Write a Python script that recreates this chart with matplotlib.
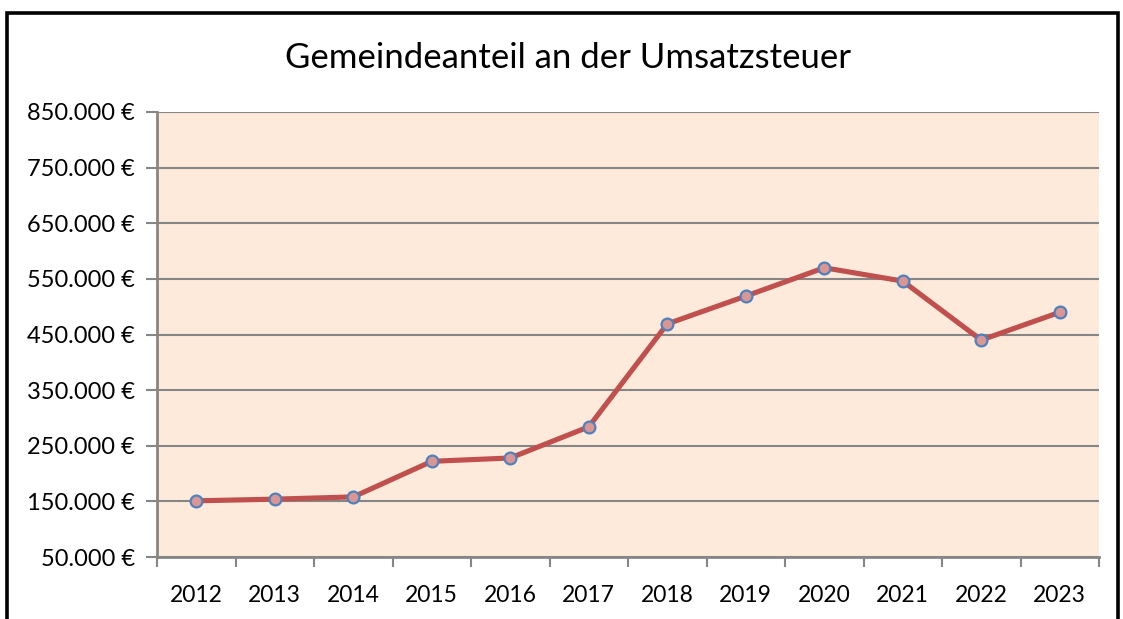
import matplotlib.pyplot as plt
from matplotlib.patches import Rectangle
from matplotlib.ticker import FuncFormatter, FixedLocator
import numpy as np

years = ['2012', '2013', '2014', '2015', '2016', '2017',
         '2018', '2019', '2020', '2021', '2022', '2023']
values = [151000, 154000, 158000, 222000, 228000, 284000,
          469000, 519000, 570000, 546000, 440000, 490000]
y_ticks = [50000, 150000, 250000, 350000, 450000, 550000, 650000, 750000, 850000]

plt.rcParams['font.family'] = ['Lato', 'DejaVu Sans']

grid_col = '#868686'
fig = plt.figure(figsize=(11.23, 6.19), dpi=100)
ax = fig.add_axes([157 / 1123, 1 - 557 / 619, (1099 - 157) / 1123, (557 - 112) / 619])
ax.set_facecolor('#FDEADA')

x = np.arange(len(years))
ax.plot(x, values, color='#C0504D', lw=3.7, marker='o', ms=8.5,
        mfc='#D99694', mec='#4F81BD', mew=1.6, zorder=3, solid_capstyle='round')

ax.set_xlim(-0.5, len(years) - 0.5)
ax.set_ylim(50000, 850000)
ax.set_yticks(y_ticks)
ax.yaxis.set_major_formatter(FuncFormatter(lambda v, p: f'{int(v):,} €'.replace(',', '.')))
ax.grid(axis='y', color=grid_col, lw=1.5)
ax.set_axisbelow(True)

ax.set_xticks(x)
ax.set_xticklabels(years)
ax.xaxis.set_minor_locator(FixedLocator(np.arange(-0.5, len(years), 1.0)))
ax.tick_params(axis='x', which='major', length=0, pad=20, labelsize=16.5)
ax.tick_params(axis='x', which='minor', length=7, width=1.5, color=grid_col, direction='out')
ax.tick_params(axis='y', length=8, width=1.5, color=grid_col, labelsize=17, pad=8)

for s in ['top', 'right']:
    ax.spines[s].set_visible(False)
for s in ['left', 'bottom']:
    ax.spines[s].set_color(grid_col)
    ax.spines[s].set_linewidth(2)

fig.text(568 / 1123, 1 - 58 / 619, 'Gemeindeanteil an der Umsatzsteuer',
         ha='center', va='center', fontsize=25)

fig.patches.append(Rectangle((7 / 1123, -0.05), (1118 - 7) / 1123, 1.05 - 13 / 619,
                             transform=fig.transFigure, fill=False,
                             edgecolor='black', lw=2.6))

fig.savefig('out.png', dpi=100, facecolor='white')
